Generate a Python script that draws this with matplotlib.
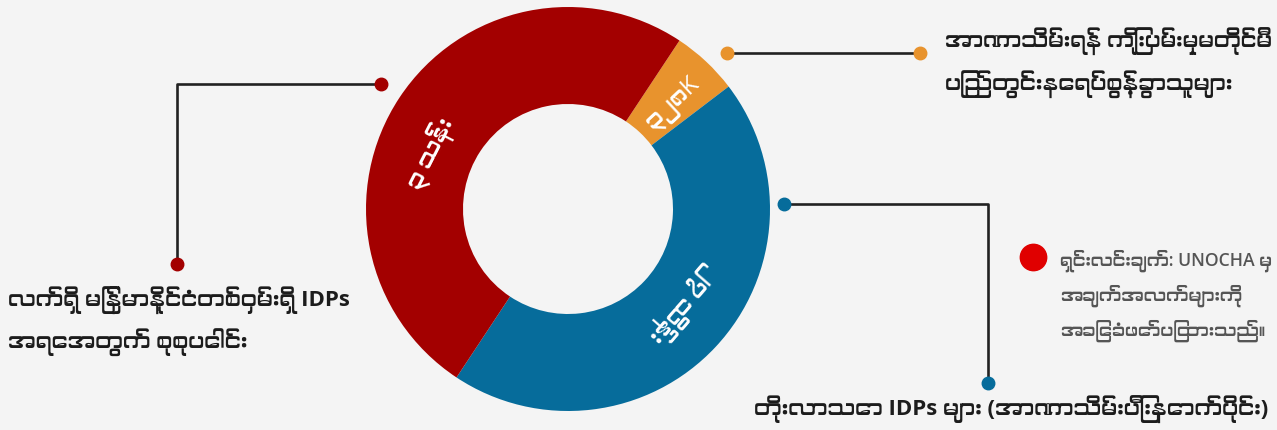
import numpy as np
import matplotlib.pyplot as plt
from matplotlib import font_manager
from matplotlib.ft2font import FT2Font

W, H = 1277, 431

# data (millions of IDPs), clockwise from the top-right
values = [0.328, 2.75, 3.078]
value_text = ['၃၂၈K', '၂၇ သိန်း', '၃ သန်း']
colors = ['#e8932d', '#066c9b', '#a30000']

top_note = ['အာဏာသိမ်းရန် ကြိုးပမ်းမှုမတိုင်မီ', 'ပြည်တွင်းနေရပ်စွန့်ခွာသူများ']
left_note = ['လက်ရှိ မြန်မာနိုင်ငံတစ်ဝှမ်းရှိ IDPs', 'အရေအတွက် စုစုပေါင်း']
bottom_note = ['တိုးလာသော IDPs များ (အာဏာသိမ်းပြီးနောက်ပိုင်း)']
source_note = ['ရှင်းလင်းချက်: UNOCHA မှ', 'အချက်အလက်များကို', 'အခြေခံဖော်ပြထားသည်။']

# look for installed fonts with Myanmar glyphs, prefer proportional ones
cands = []
for f in font_manager.fontManager.ttflist:
    try:
        if FT2Font(f.fname).get_char_index(0x1000):
            score = 0
            if 'mono' in f.name.lower() or 'mono' in f.fname.lower():
                score += 10
            if 'myanmar' in f.name.lower() or 'padauk' in f.name.lower():
                score -= 5
            cands.append((score, f.name))
    except Exception:
        pass
cands.sort()
families = ['Open Sans']
if cands:
    families.append(cands[0][1])
families.append('DejaVu Sans')
plt.rcParams['font.family'] = families

def py(y):
    # pixel row (from top) -> data y
    return H - y

fig = plt.figure(figsize=(W / 100, H / 100), dpi=100, facecolor='#f4f4f4')
ax = fig.add_axes([0, 0, 1, 1])
ax.set_facecolor('#f4f4f4')
renderer = fig.canvas.get_renderer()

def fit(t, max_w):
    bb = t.get_window_extent(renderer)
    if bb.width > max_w:
        t.set_fontsize(t.get_fontsize() * max_w / bb.width)

cx, cy = 568, py(210)
r_out, r_in = 202, 105
wedges, _ = ax.pie(values, colors=colors, startangle=56.5, counterclock=False,
                   radius=r_out, center=(cx, cy), frame=True,
                   wedgeprops=dict(width=r_out - r_in, edgecolor='none'))

ax.set_xlim(0, W)
ax.set_ylim(0, H)
ax.set_aspect('equal')
ax.axis('off')

# labels inside the ring
rot = [43, 229, 63]
shift = [-2, 4, 11]
lab_w = [75, 95, 85]
for w, txt, rr, sh, lw in zip(wedges, value_text, rot, shift, lab_w):
    a = np.deg2rad((w.theta1 + w.theta2) / 2 + sh)
    rm = (r_out + r_in) / 2 - 4
    t = ax.text(cx + rm * np.cos(a), cy + rm * np.sin(a), txt, color='white',
                fontsize=17, rotation=0, ha='center', va='center')
    fit(t, lw)
    t.set_rotation(rr)
    t.set_rotation_mode('anchor')

# connectors
line_kw = dict(color='#222222', lw=1.9, zorder=3)
dot = dict(marker='o', ms=9, ls='none', zorder=4)

ax.plot([381, 177, 177], [py(85), py(85), py(265)], **line_kw)
ax.plot([381, 177], [py(85), py(265)], color=colors[2], **dot)

ax.plot([727, 920], [py(54), py(54)], **line_kw)
ax.plot([727, 920], [py(54), py(54)], color=colors[0], **dot)

ax.plot([784, 988, 988], [py(205), py(205), py(384)], **line_kw)
ax.plot([784, 988], [py(205), py(384)], color=colors[1], **dot)

# notes
tk = dict(fontsize=16, fontweight='bold', color='#1c1c1c', va='center')
for s, y in zip(top_note, [42, 85]):
    fit(ax.text(945, py(y), s, ha='left', **tk), 327)
for s, y in zip(left_note, [301, 343]):
    fit(ax.text(8, py(y), s, ha='left', **tk), 365)
fit(ax.text(1011, py(410), bottom_note[0], ha='center', **tk), 520)

ax.plot([1033], [py(258)], marker='o', ms=19, color='#e00000', ls='none')
for s, y in zip(source_note, [261, 296, 331]):
    fit(ax.text(1060, py(y), s, ha='left', va='center', fontsize=13,
                fontweight='semibold', color='#555555'), 212)

fig.savefig('out.png', dpi=100, facecolor='#f4f4f4')
